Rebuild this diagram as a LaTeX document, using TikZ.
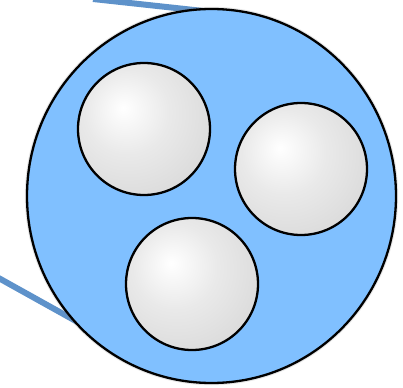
\documentclass[tikz,border=0pt]{standalone}
\usetikzlibrary{shapes.geometric,shadows}
\definecolor{CellBlue}{HTML}{80C0FF}
\definecolor{LinkBlue}{HTML}{5E92CA}
\pgfdeclareradialshading{pebble}{\pgfpoint{-8bp}{8bp}}{color(0bp)=(white); color(16bp)=(gray!17); color(58bp)=(gray!46); color(80bp)=(gray!46)}

\begin{document}
\begin{tikzpicture}[x=1pt,y=-1pt]
  \useasboundingbox (0,0) rectangle (403,387);
  % zoom lines, behind the cell
  \coordinate (t0) at (93,-1);
  \coordinate (t1) at (240,15);
  \coordinate (b0) at (-5,276);
  \coordinate (b1) at (110,340);
  \draw[LinkBlue,line width=6pt] (t0)--(t1);
  \draw[LinkBlue,line width=6pt] (b0)--(b1);
  % cell
  \node[ellipse,draw=black,line width=2.3pt,fill=CellBlue,minimum width=369pt,minimum height=374pt,inner sep=0pt,drop shadow={opacity=0.2,shadow xshift=0pt,shadow yshift=0pt,shadow scale=1.012}] (cell) at (211.5,196) {};
  % vesicles
  \node[circle,draw=black,line width=2.3pt,shading=pebble,minimum size=132pt,inner sep=0pt] (v1) at (144,129) {};
  \node[circle,draw=black,line width=2.3pt,shading=pebble,minimum size=132pt,inner sep=0pt] (v2) at (301,169) {};
  \node[circle,draw=black,line width=2.3pt,shading=pebble,minimum size=132pt,inner sep=0pt] (v3) at (192,284) {};
\end{tikzpicture}
\end{document}
